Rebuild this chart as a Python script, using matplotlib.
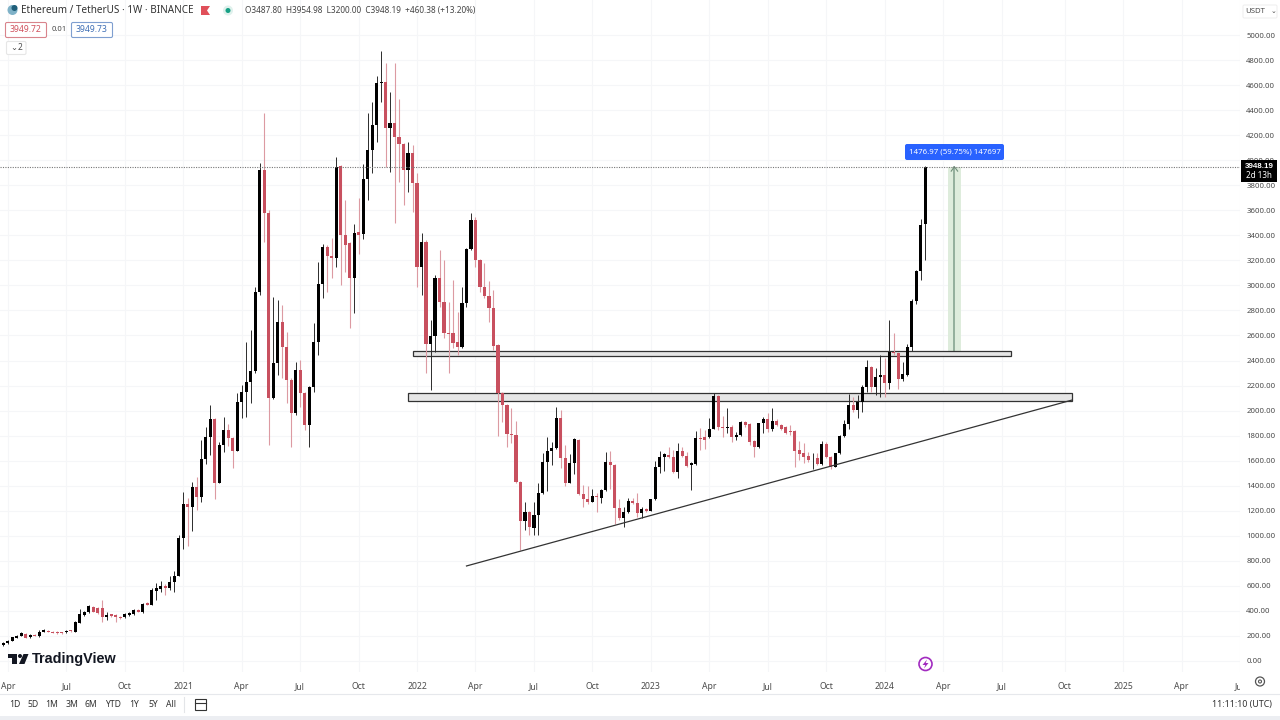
"""ETH/USDT weekly candles, TradingView style, with support zones, trendline and a measure box."""
import numpy as np
import pandas as pd
import matplotlib
matplotlib.use("Agg")
import matplotlib.pyplot as plt
import matplotlib.dates as mdates
from matplotlib.patches import Rectangle, FancyBboxPatch, Circle, Polygon

plt.rcParams["font.family"] = ["Noto Sans", "DejaVu Sans"]

OPEN = [128, 142, 163, 185, 200, 214, 190, 208, 200, 235, 243, 232, 230, 224, 230, 240, 235, 307, 368, 389,
        435, 427, 427, 349, 373, 368, 355, 349, 368, 376, 408, 389, 461, 448, 560, 576, 600, 581, 634, 682,
        980, 1252, 1233, 1393, 1313, 1611, 1792, 1931, 1420, 1726, 1845, 1779, 1680, 2072, 2152, 2231, 2319, 2947, 3922, 3576,
        2098, 2383, 2711, 2511, 2245, 1979, 2325, 2138, 1885, 2192, 2551, 3009, 3304, 3235, 3219, 3954, 3403, 3336, 3057, 3429,
        3411, 3847, 4082, 4281, 4614, 4622, 4255, 4295, 4188, 4127, 3922, 4060, 3821, 3144, 3349, 2532, 2599, 3057, 2870, 2617,
        2617, 2551, 2511, 2857, 3291, 3522, 3203, 2985, 2916, 2822, 2524, 2138, 2045, 1811, 1805, 1433, 1121, 1193, 1060, 1167,
        1340, 1593, 1680, 1699, 1939, 1619, 1425, 1579, 1766, 1334, 1292, 1273, 1321, 1305, 1366, 1587, 1568, 1220, 1140, 1193,
        1281, 1265, 1180, 1212, 1198, 1292, 1553, 1627, 1643, 1630, 1513, 1680, 1640, 1565, 1571, 1784, 1792, 1792, 1853, 2116,
        1871, 1858, 1871, 1792, 1805, 1911, 1893, 1757, 1712, 1898, 1933, 1850, 1919, 1885, 1866, 1837, 1839, 1685, 1658, 1637,
        1618, 1618, 1573, 1733, 1632, 1552, 1658, 1797, 1893, 2044, 2004, 2066, 2191, 2351, 2191, 2271, 2282, 2218, 2471, 2457,
        2250, 2285, 2505, 2878, 3115, 3487.80]
CLOSE = [147, 163, 190, 200, 222, 187, 208, 200, 235, 248, 235, 227, 222, 222, 243, 238, 315, 373, 395, 440,
         392, 381, 349, 368, 360, 349, 347, 376, 381, 408, 395, 456, 448, 565, 581, 602, 584, 634, 682, 980,
         1252, 1233, 1393, 1313, 1611, 1792, 1931, 1420, 1726, 1845, 1779, 1680, 2072, 2152, 2231, 2319, 2947, 3922, 3576, 2098,
         2383, 2711, 2511, 2245, 1979, 2325, 2138, 1885, 2192, 2551, 3009, 3304, 3235, 3219, 3948, 3403, 3323, 3057, 3416, 3403,
         3847, 4082, 4281, 4614, 4622, 4255, 4295, 4188, 4127, 3922, 4060, 3821, 3144, 3344, 2532, 2599, 3057, 2870, 2617, 2610,
         2537, 2511, 2862, 3291, 3522, 3203, 2985, 2916, 2822, 2516, 2138, 2045, 1813, 1805, 1433, 1121, 1193, 1073, 1167, 1340,
         1593, 1680, 1699, 1939, 1619, 1425, 1579, 1771, 1332, 1292, 1268, 1318, 1313, 1366, 1587, 1568, 1220, 1140, 1193, 1281,
         1265, 1180, 1214, 1198, 1292, 1553, 1627, 1651, 1630, 1513, 1680, 1640, 1560, 1580, 1778, 1776, 1765, 1853, 2116, 1871,
         1858, 1866, 1792, 1805, 1911, 1885, 1746, 1712, 1898, 1933, 1850, 1919, 1885, 1853, 1823, 1831, 1680, 1653, 1627, 1605,
         1624, 1573, 1733, 1627, 1547, 1658, 1797, 1893, 2044, 2004, 2066, 2191, 2351, 2191, 2266, 2282, 2218, 2471, 2457, 2252,
         2290, 2505, 2878, 3115, 3485, 3948.19]
HIGH = [150, 168, 195, 205, 228, 220, 212, 212, 250, 252, 248, 236, 236, 228, 246, 244, 318, 413, 400, 445,
        442, 432, 488, 395, 378, 372, 358, 380, 390, 412, 412, 460, 470, 580, 620, 635, 612, 675, 715, 1005,
        1353, 1300, 1432, 1470, 1766, 1872, 2045, 1940, 1752, 1947, 1893, 1790, 2144, 2205, 2551, 2644, 2990, 3980, 4374, 3600,
        2910, 2884, 2844, 2631, 2260, 2391, 2405, 2150, 2200, 2697, 3190, 3331, 3325, 3376, 4028, 3960, 3682, 3350, 3491, 3695,
        3970, 4374, 4467, 4672, 4872, 4774, 4547, 4779, 4486, 4140, 4148, 4121, 3895, 3416, 3360, 2724, 3085, 3283, 3203, 2870,
        3043, 2790, 2985, 3297, 3581, 3549, 3215, 3176, 3038, 2963, 2535, 2150, 2055, 2018, 1920, 1440, 1273, 1200, 1268, 1420,
        1664, 1792, 1752, 2032, 2005, 1725, 1654, 1780, 1775, 1406, 1398, 1374, 1340, 1372, 1667, 1680, 1575, 1290, 1234, 1300,
        1300, 1345, 1234, 1222, 1296, 1600, 1680, 1665, 1712, 1685, 1744, 1707, 1672, 1590, 1840, 1858, 1845, 1938, 2143, 2125,
        1957, 2018, 1885, 1832, 1917, 1920, 1900, 1765, 1905, 1950, 1978, 2023, 1930, 1895, 1875, 1885, 1845, 1760, 1744, 1672,
        1658, 1658, 1757, 1752, 1640, 1665, 1803, 1925, 2132, 2111, 2124, 2204, 2404, 2358, 2337, 2444, 2417, 2723, 2617, 2465,
        2391, 2530, 2890, 3125, 3527, 3954.98]
LOW = [120, 138, 160, 182, 196, 183, 185, 196, 195, 230, 230, 224, 213, 218, 226, 232, 232, 300, 362, 385,
       388, 375, 315, 330, 352, 315, 338, 342, 362, 368, 390, 385, 444, 444, 490, 555, 525, 570, 555, 678,
       895, 915, 1042, 1205, 1273, 1574, 1646, 1290, 1420, 1672, 1720, 1539, 1675, 1938, 1952, 2058, 2300, 2920, 3349, 1726,
       2090, 2285, 2258, 2058, 1712, 1965, 2030, 1845, 1712, 2152, 2444, 2897, 2950, 3057, 3150, 3003, 3110, 2657, 2782, 3255,
       3368, 3682, 3895, 4148, 4467, 3948, 3908, 3501, 3829, 3642, 3749, 3589, 2990, 2924, 2298, 2165, 2471, 2830, 2578, 2298,
       2500, 2444, 2498, 2830, 3280, 3150, 2950, 2900, 2710, 2484, 1797, 1912, 1712, 1744, 1420, 887, 1047, 1007, 1007, 1007,
       1335, 1361, 1566, 1690, 1539, 1400, 1420, 1494, 1325, 1228, 1255, 1268, 1193, 1260, 1360, 1370, 1095, 1130, 1073, 1185,
       1255, 1150, 1145, 1190, 1195, 1288, 1505, 1518, 1620, 1500, 1460, 1630, 1550, 1366, 1565, 1685, 1690, 1780, 1850, 1845,
       1792, 1820, 1752, 1765, 1797, 1870, 1725, 1626, 1705, 1818, 1830, 1840, 1875, 1845, 1815, 1805, 1552, 1605, 1580, 1590,
       1535, 1565, 1565, 1620, 1530, 1546, 1650, 1790, 1850, 1990, 1938, 1990, 2150, 2151, 2125, 2110, 2106, 2170, 2445, 2170,
       2240, 2280, 2480, 2855, 3043, 3200]

LAST_WEEK = "2024-03-04"
LAST_PRICE = 3948.19

TICK_DATES = ["2020-04-06", "2020-07-06", "2020-10-05", "2021-01-04", "2021-04-05", "2021-07-05", "2021-10-04",
              "2022-01-03", "2022-04-04", "2022-07-04", "2022-10-03", "2023-01-02", "2023-04-03", "2023-07-03",
              "2023-10-02", "2024-01-01", "2024-04-01", "2024-07-01", "2024-10-07", "2025-01-06", "2025-04-07",
              "2025-07-07"]
TICK_LABELS = ["Apr", "Jul", "Oct", "2021", "Apr", "Jul", "Oct", "2022", "Apr", "Jul", "Oct", "2023", "Apr", "Jul",
               "Oct", "2024", "Apr", "Jul", "Oct", "2025", "Apr", "Jul"]
PRICE_TICKS = list(range(0, 5001, 200))

ZONE_UPPER_DATES = ["2021-12-27", "2024-07-15"]
ZONE_UPPER_PRICES = [2436, 2476]
ZONE_LOWER_DATES = ["2021-12-20", "2024-10-19"]
ZONE_LOWER_PRICES = [2077, 2141]
TREND_DATES = ["2022-03-21", "2024-10-19"]
TREND_PRICES = [759, 2085]
MEASURE_DATES = ["2024-04-08", "2024-04-29"]
MEASURE_PRICES = [2471, 3948]

UP = "#000000"
DOWN = "#c8505f"
TEXT = "#4a4a4a"

# px layout: pane is 0..1240 x 0..672, 4.5 px a week, last bar at 925.8
PX_W, PX_H, PANE_W, PANE_H = 1280, 720, 1240, 672
days_per_px = 7 / 4.5

dates = pd.date_range(end=LAST_WEEK, periods=len(OPEN), freq="7D")
x = mdates.date2num(dates)
o, h, l, c = map(np.array, (OPEN, HIGH, LOW, CLOSE))
up = c >= o

fig = plt.figure(figsize=(12.8, 7.2), dpi=100, facecolor="white")
ax = fig.add_axes([0, (PX_H - PANE_H) / PX_H, PANE_W / PX_W, PANE_H / PX_H])
left = x[-1] - 925.8 * days_per_px
ax.set_xlim(left, left + PANE_W * days_per_px)
ax.set_ylim(-88, 5280)

ax.set_xticks(mdates.date2num(pd.to_datetime(TICK_DATES)))
ax.set_xticklabels(TICK_LABELS)
ax.set_yticks(PRICE_TICKS)
ax.set_yticklabels([f"{p:.2f}" for p in PRICE_TICKS])
ax.yaxis.tick_right()
ax.tick_params(axis="both", length=0, labelsize=6.2, labelcolor=TEXT)
ax.tick_params(axis="x", pad=7)
ax.tick_params(axis="y", pad=4.5, labelsize=5.6)
ax.grid(color="#f5f6f8", lw=0.8)
ax.set_axisbelow(True)
for s in ax.spines.values():
    s.set_visible(False)

# measure box sits under the candles
m0, m1 = mdates.date2num(pd.to_datetime(MEASURE_DATES))
ax.add_patch(Rectangle((m0, MEASURE_PRICES[0]), m1 - m0, MEASURE_PRICES[1] - MEASURE_PRICES[0],
                       fc="#deecdc", ec="none", zorder=1))
mid = (m0 + m1) / 2
ax.plot([mid, mid], MEASURE_PRICES, color="#7f9f8a", lw=1.1, zorder=2)
ax.plot([mid - 5, mid, mid + 5], [MEASURE_PRICES[1] - 35, MEASURE_PRICES[1], MEASURE_PRICES[1] - 35],
        color="#6f8f7a", lw=0.8, zorder=2)

for dd, pp in ((ZONE_UPPER_DATES, ZONE_UPPER_PRICES), (ZONE_LOWER_DATES, ZONE_LOWER_PRICES)):
    d0, d1 = mdates.date2num(pd.to_datetime(dd))
    ax.add_patch(Rectangle((d0, pp[0]), d1 - d0, pp[1] - pp[0], fc="#e6e6e6", ec="#333333", lw=0.9, zorder=2))

# candles
ax.vlines(x[up], l[up], h[up], color="#2b2b2b", lw=0.7, zorder=3)
ax.vlines(x[~up], l[~up], h[~up], color="#dc9aa2", lw=0.8, zorder=3)
bw = 3.1 * days_per_px
ax.bar(x[up], np.maximum(c[up] - o[up], 6), bottom=o[up], width=bw, color=UP, zorder=4)
ax.bar(x[~up], np.maximum(o[~up] - c[~up], 6), bottom=c[~up], width=bw, color=DOWN, zorder=4)

ax.plot(mdates.date2num(pd.to_datetime(TREND_DATES)), TREND_PRICES, color="#333333", lw=0.9, zorder=5)
ax.axhline(LAST_PRICE, color="#777777", lw=0.8, ls=(0, (1, 1.2)), zorder=5)

# ---- chrome, drawn in pixel coords on a full-figure overlay ----
ui = fig.add_axes([0, 0, 1, 1], facecolor="none")
ui.set_xlim(0, PX_W); ui.set_ylim(PX_H, 0); ui.axis("off")

def label(px, py, s, size=6.2, color=TEXT, ha="left", **kw):
    return ui.text(px, py, s, fontsize=size, color=color, ha=ha, va="center", **kw)

def box(x0, y0, w, h, fc, ec, lw=0.8, rad=1.5):
    ui.add_patch(FancyBboxPatch((x0, y0), w, h, boxstyle=f"round,pad=0,rounding_size={rad}", fc=fc, ec=ec, lw=lw))

# hide what runs under the price scale on the time row, then the bottom bars
ui.add_patch(Rectangle((1240, 672), 40, 21, fc="white", ec="none"))
ui.plot([0, 1280], [693.5, 693.5], color="#e6e8ec", lw=0.8)
ui.add_patch(Rectangle((0, 716), 1280, 4, fc="#eceef2", ec="none"))

# header
ui.add_patch(Circle((12.5, 10), 5, fc="#7fb2c8", ec="none"))
ui.add_patch(Circle((14.5, 8), 3, fc="#1f5f7a", ec="none"))
label(21, 10.5, "Ethereum / TetherUS · 1W · BINANCE", size=7.15, color="#333333")
ui.add_patch(Polygon([(201, 6), (210, 6), (207, 10.5), (210, 15), (201, 15)], fc="#e0505a", ec="none"))
ui.add_patch(Circle((228, 10.5), 5, fc="#dff1ec", ec="none"))
ui.add_patch(Circle((228, 10.5), 2.5, fc="#16a085", ec="none"))
label(245, 11, "O3487.80  H3954.98  L3200.00  C3948.19  +460.38 (+13.20%)", size=5.95, color="#444444")
box(5.5, 22.5, 41, 15, "white", "#d9848c")
label(26, 30, "3949.72", color="#d0505c", ha="center")
label(52, 29.5, "0.01", size=5.5)
box(71.5, 22.5, 41, 15, "white", "#7f9fd0")
label(92, 30, "3949.73", color="#3f6fb5", ha="center")
box(6.5, 41.5, 19.5, 13, "white", "#e6e6e6")
label(10, 48, "⌄", size=6)
label(18, 48, "2", size=6)

# measure label
box(905, 144, 99, 16, "#2962ff", "none", rad=2)
label(954.5, 152, "1476.97 (59.75%) 147697", size=5.7, color="white", ha="center")

# price scale extras
box(1243, 5, 34, 13, "white", "#f0f0f0")
label(1245, 11.5, "USDT", size=5.6)
label(1271, 11.5, "⌄", size=5)
ui.add_patch(Rectangle((1241, 160), 36, 22, fc="black", ec="none"))
label(1259, 166.5, "3948.19", size=5.8, color="white", ha="center", fontweight="bold",
      family=["Liberation Sans", "DejaVu Sans"])
label(1259, 176, "2d 13h", size=5.8, color="white", ha="center")

# TradingView mark
ui.add_patch(Rectangle((8, 654), 9, 3.5, fc="#131722", ec="none"))
ui.add_patch(Rectangle((12, 654), 5, 10, fc="#131722", ec="none"))
ui.add_patch(Circle((20, 656), 2, fc="#131722", ec="none"))
ui.add_patch(Polygon([(23.5, 654), (28.5, 654), (24.5, 664), (19, 664)], fc="#131722", ec="none"))
label(32, 658.5, "TradingView", size=10.4, color="#131722", fontweight="bold",
      family=["Liberation Sans", "DejaVu Sans"])

# purple bolt
ui.add_patch(Circle((925.5, 664), 6.5, fc="white", ec="#a22bc0", lw=1.2))
ui.add_patch(Polygon([(927, 659.5), (922.5, 665), (925.3, 665), (924, 668.5), (928.5, 663), (925.7, 663)],
                     fc="#a22bc0", ec="none"))

# gear
ui.add_patch(Circle((1260, 681.5), 4.5, fc="white", ec="#555555", lw=0.9))
ui.add_patch(Circle((1260, 681.5), 1.5, fc="white", ec="#555555", lw=0.8))

# toolbar
for px, s in zip([15, 33, 52, 72, 91, 113, 134, 153, 171],
                 ["1D", "5D", "1M", "3M", "6M", "YTD", "1Y", "5Y", "All"]):
    label(px, 704.5, s, size=6.2, ha="center", color="#333333")
ui.plot([184, 184], [697, 712], color="#e3e5e8", lw=0.8)
ui.add_patch(Rectangle((194.5, 699), 11, 11, fc="none", ec="#333333", lw=0.8))
ui.plot([194.5, 205.5], [702.5, 702.5], color="#333333", lw=0.8)
label(1272, 704.5, "11:11:10 (UTC)", size=6.4, ha="right", color="#333333")

fig.savefig("out.png", dpi=100)
print(len(OPEN), len(HIGH), len(LOW), len(CLOSE))
